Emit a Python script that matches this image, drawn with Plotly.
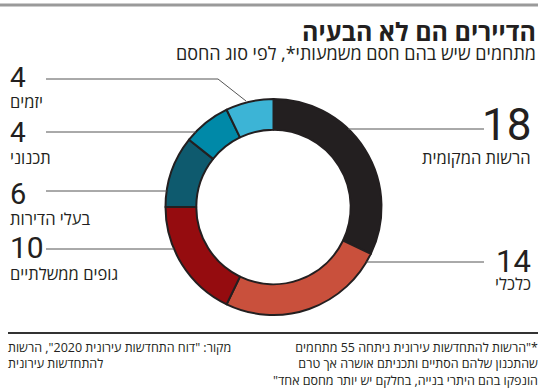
import math
import plotly.graph_objects as go

# ---- data ----
categories = ["הרשות המקומית", "כלכלי", "גופים ממשלתיים", "בעלי הדירות", "תכנוני", "יזמים"]
values = [18, 14, 10, 6, 4, 4]
colors = ["#231F20", "#C9503C", "#950C0F", "#0E5A6E", "#0089A8", "#3CB4D6"]

title = "הדיירים הם לא הבעיה"
subtitle = "מתחמים שיש בהם חסם משמעותי*, לפי סוג החסם"
footnote = ['*"הרשות להתחדשות עירונית ניתחה 55 מתחמים',
            'שהתכנון שלהם הסתיים ותכניתם אושרה אך טרם',
            'הונפקו בהם היתרי בנייה, בחלקם יש יותר מחסם אחד"']
source = ['מקור: "דוח התחדשות עירונית 2020", הרשות',
          'להתחדשות עירונית']

W, H = 550, 390
CX, CY, R = 273.5, 207, 108
RLM = "\u200f"

def rtl(s):
    return RLM + s + RLM

def px(x):
    return x / W

def py(y):
    return 1 - y / H

HEB = "Open Sans, Liberation Sans, DejaVu Sans"
NUM = "Roboto, Liberation Sans"
INK = "#231F20"

fig = go.Figure()
fig.add_trace(go.Pie(
    labels=categories, values=values, sort=False, direction="clockwise",
    rotation=0, hole=0.715,
    marker=dict(colors=colors, line=dict(color=INK, width=2)),
    textinfo="none", hoverinfo="label+value", showlegend=False,
    domain=dict(x=[px(CX - R), px(CX + R)], y=[py(CY + R), py(CY - R)]),
))

shapes = []
def line(x0, y0, x1, y1, color="#555555", width=1):
    shapes.append(dict(type="line", xref="paper", yref="paper",
                       x0=px(x0), y0=py(y0), x1=px(x1), y1=py(y1),
                       line=dict(color=color, width=width)))

# header / footer rules
line(0, 5, 538, 5, color="#9a9a9a", width=3)
line(8, 333, 538, 333, color="#333333", width=2)

# label layout: side, leader y, number y, label y, number font size
label_layout = {
    "הרשות המקומית": ("right", 129, 125, 157, 44),
    "כלכלי": ("right", 262, 261, 283, 31),
    "גופים ממשלתיים": ("left", 249, 248, 273, 30),
    "בעלי הדירות": ("left", 191, 194, 218, 29),
    "תכנוני": ("left", 132, 132, 157, 28),
    "יזמים": ("left", 79, 78, 102, 28),
}

annotations = []
for cat, val in zip(categories, values):
    side, ly, ny, ty, nsize = label_layout[cat]
    dy = ly - CY
    edge = math.sqrt(max(R * R - dy * dy, 0))
    if side == "right":
        line(CX + edge, ly, 484, ly)
        annotations.append(dict(x=px(533), y=py(ny), text=str(val), xanchor="right",
                                yanchor="middle", showarrow=False,
                                font=dict(family=NUM, size=nsize, color=INK)))
        annotations.append(dict(x=px(533), y=py(ty), text=rtl(cat), xanchor="right",
                                yanchor="middle", showarrow=False,
                                font=dict(family=HEB, size=16.5, color=INK)))
    else:
        if cat == "יזמים":
            line(46, ly, 218, ly)
            line(218, ly, 246, 101)
        else:
            line(46, ly, CX - edge, ly)
        annotations.append(dict(x=px(8), y=py(ny), text=str(val), xanchor="left",
                                yanchor="middle", showarrow=False,
                                font=dict(family=NUM, size=nsize, color=INK)))
        annotations.append(dict(x=px(8), y=py(ty), text=rtl(cat), xanchor="left",
                                yanchor="middle", showarrow=False,
                                font=dict(family=HEB, size=16.5, color=INK)))

annotations.append(dict(x=px(538), y=py(31), text="<b>" + rtl(title) + "</b>", xanchor="right",
                        yanchor="middle", showarrow=False,
                        font=dict(family=HEB, size=25, color=INK)))
annotations.append(dict(x=px(538), y=py(53), text=rtl(subtitle), xanchor="right",
                        yanchor="middle", showarrow=False,
                        font=dict(family=HEB, size=18, color=INK)))
annotations.append(dict(x=px(540), y=py(337), text="<br>".join(rtl(s) for s in footnote),
                        xanchor="right", yanchor="top", align="right", showarrow=False,
                        font=dict(family=HEB, size=12.5, color=INK)))
annotations.append(dict(x=px(6), y=py(337), text="<br>".join(rtl(s) for s in source),
                        xanchor="left", yanchor="top", align="left", showarrow=False,
                        font=dict(family=HEB, size=12.5, color=INK)))

fig.update_layout(width=W, height=H, margin=dict(l=0, r=0, t=0, b=0),
                  paper_bgcolor="white", plot_bgcolor="white",
                  shapes=shapes, annotations=annotations)

fig.write_html("out.html", config={"displayModeBar": False},
               post_script="document.body.style.margin='0';document.body.style.overflow='hidden';")
